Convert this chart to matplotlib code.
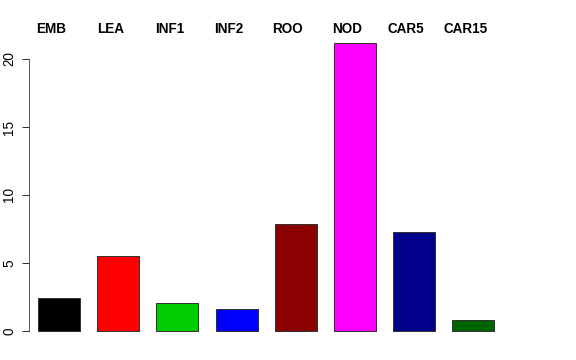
import matplotlib
matplotlib.use("Agg")
import matplotlib.pyplot as plt

categories = ["EMB", "LEA", "INF1", "INF2", "ROO", "NOD", "CAR5", "CAR15"]
values = [2.4, 5.5, 2.05, 1.6, 7.9, 21.2, 7.25, 0.78]
colors = ["#000000", "#FF0000", "#00CD00", "#0000FF", "#8B0000", "#FF00FF", "#00008B", "#006400"]
yticks = [0, 5, 10, 15, 20]

plt.rcParams['font.family'] = ['Liberation Sans', 'DejaVu Sans']

fig = plt.figure(figsize=(8, 5), dpi=72)
ax = fig.add_axes([29/576, (360-337.8)/360, 531/576, 312.8/360])

x = list(range(1, len(categories) + 1))
ax.bar(x, values, width=0.71, color=colors, edgecolor="#333333", linewidth=1)

ax.set_xlim(1 - 30/59.2, 1 + 501/59.2)
ax.set_ylim(-0.5, 22.5)

for s in ["top", "right", "bottom"]:
    ax.spines[s].set_visible(False)
ax.spines["left"].set_bounds(0, 20)
ax.spines["left"].set_color("#333333")
ax.set_xticks([])
ax.set_yticks(yticks)
ax.set_yticklabels([str(t) for t in yticks], rotation=90, va="center", fontsize=13.5)
ax.tick_params(axis="y", length=7, width=1, color="#333333", pad=6)

label_y = (331 - 29) / 13.6
for xi, cat in zip(x, categories):
    ax.text(xi - 8/59.2, label_y, cat, ha="center", va="center",
            fontsize=13.5, fontweight="bold", clip_on=False)

fig.savefig("out.png", dpi=72)
